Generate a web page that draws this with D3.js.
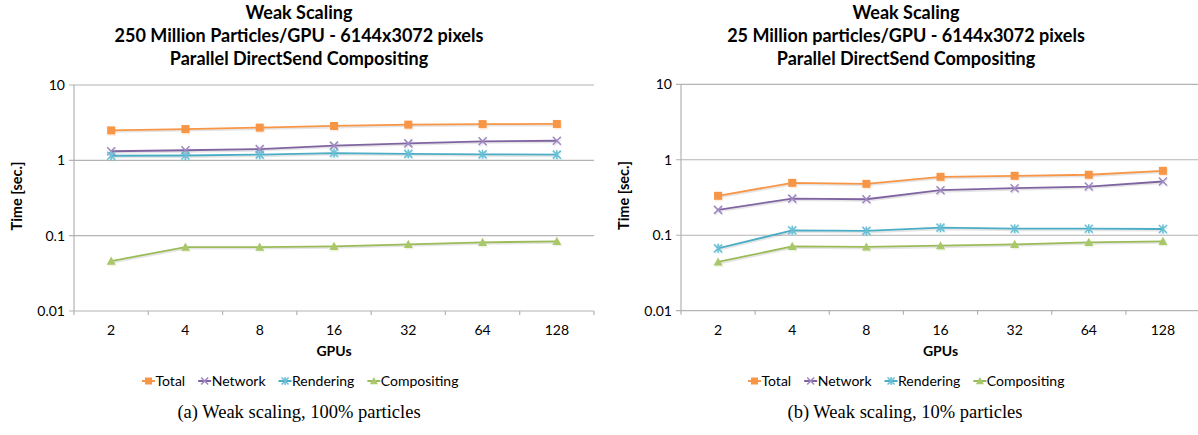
<!DOCTYPE html>
<html><head><meta charset="utf-8">
<script src="https://cdn.jsdelivr.net/npm/d3@7"></script>
<style>
body{margin:0;background:#fff;}
svg{display:block;}
</style></head>
<body>
<svg id="c" width="1198" height="435"></svg>
<script>
const categories = ["2","4","8","16","32","64","128"];
const seriesNames = ["Total","Network","Rendering","Compositing"];
const yTicks = [0.01, 0.1, 1, 10];
const yTickLabels = ["0.01","0.1","1","10"];

// (a) 250 Million particles/GPU
const aTotal       = [2.50, 2.60, 2.72, 2.86, 2.98, 3.03, 3.04];
const aNetwork     = [1.32, 1.36, 1.41, 1.57, 1.68, 1.79, 1.82];
const aRendering   = [1.15, 1.16, 1.19, 1.25, 1.22, 1.20, 1.19];
const aCompositing = [0.046, 0.0706, 0.0706, 0.0721, 0.0767, 0.0815, 0.084];

// (b) 25 Million particles/GPU
const bTotal       = [0.333, 0.495, 0.480, 0.594, 0.613, 0.633, 0.714];
const bNetwork     = [0.217, 0.306, 0.300, 0.395, 0.420, 0.442, 0.515];
const bRendering   = [0.067, 0.116, 0.114, 0.126, 0.122, 0.122, 0.121];
const bCompositing = [0.0442, 0.0712, 0.070, 0.0728, 0.0757, 0.0805, 0.083];

const titlesA = ["Weak Scaling","250 Million Particles/GPU - 6144x3072 pixels","Parallel DirectSend Compositing"];
const titlesB = ["Weak Scaling","25 Million particles/GPU - 6144x3072 pixels","Parallel DirectSend Compositing"];
const captionA = "(a) Weak scaling, 100% particles";
const captionB = "(b) Weak scaling, 10% particles";
const yTitle = "Time [sec.]";
const xTitle = "GPUs";

const colors = {Total:"#F79646", Network:"#8064A2", Rendering:"#4BACC6", Compositing:"#9BBB59"};
const markerColors = {Total:"#F79646", Network:"#9F8AC0", Rendering:"#6CC0D6", Compositing:"#A9C86A"};
const FONT = "Lato, 'Open Sans', sans-serif";

const svg = d3.select("#c");

function marker(g, name, x, y, s) {
  const c = markerColors[name];
  if (name === "Total") {
    g.append("rect").attr("x", x - s/2).attr("y", y - s/2).attr("width", s).attr("height", s)
      .attr("fill", colors.Total);
  } else if (name === "Network") {
    const r = s/2;
    g.append("path").attr("d", `M${x-r},${y-r}L${x+r},${y+r}M${x-r},${y+r}L${x+r},${y-r}`)
      .attr("stroke", c).attr("stroke-width", 1.6).attr("fill", "none");
  } else if (name === "Rendering") {
    const r = s/2;
    g.append("path").attr("d", `M${x-r},${y-r}L${x+r},${y+r}M${x-r},${y+r}L${x+r},${y-r}M${x},${y-r-0.5}L${x},${y+r+0.5}`)
      .attr("stroke", c).attr("stroke-width", 1.6).attr("fill", "none");
  } else {
    const r = s/2 + 0.5;
    g.append("path").attr("d", `M${x},${y-r}L${x+r},${y+r*0.8}L${x-r},${y+r*0.8}Z`)
      .attr("fill", c);
  }
}

function drawChart(cfg) {
  const g = svg.append("g");
  const x = d3.scaleBand().domain(categories).range([cfg.x0, cfg.x1]).paddingInner(0).paddingOuter(0);
  const y = d3.scaleLog().domain([0.01, 10]).range([cfg.yBot, cfg.yTop]);
  const cx = c => x(c) + x.bandwidth()/2;

  g.selectAll(".grid").data(yTicks).enter().append("line")
    .attr("x1", cfg.x0 - 5).attr("x2", cfg.x1)
    .attr("y1", d => y(d)).attr("y2", d => y(d))
    .attr("stroke", "#b3b3b3").attr("stroke-width", 1.2);
  g.append("line").attr("x1", cfg.x0).attr("x2", cfg.x0).attr("y1", cfg.yTop).attr("y2", cfg.yBot + 4)
    .attr("stroke", "#b3b3b3").attr("stroke-width", 1.2);
  const bounds = categories.map(c => x(c)).concat([cfg.x1]);
  g.selectAll(".xt").data(bounds.slice(1)).enter().append("line")
    .attr("x1", d => d).attr("x2", d => d).attr("y1", cfg.yBot).attr("y2", cfg.yBot + 4)
    .attr("stroke", "#b3b3b3").attr("stroke-width", 1.2);

  g.selectAll(".yl").data(yTicks).enter().append("text")
    .attr("x", cfg.x0 - 9).attr("y", d => y(d) + 5)
    .attr("text-anchor", "end").attr("font-family", FONT).attr("font-size", 14).attr("fill", "#000")
    .text((d,i) => yTickLabels[i]);
  g.selectAll(".xl").data(categories).enter().append("text")
    .attr("x", d => cx(d)).attr("y", cfg.yBot + 24)
    .attr("text-anchor", "middle").attr("font-family", FONT).attr("font-size", 14).attr("fill", "#000")
    .text(d => d);

  g.append("text").attr("transform", `translate(${cfg.x0 - 52},${(cfg.yTop + cfg.yBot)/2 - 2}) rotate(-90)`)
    .attr("text-anchor", "middle").attr("font-family", FONT).attr("font-weight", "bold").attr("font-size", 14.5)
    .text(yTitle);
  g.append("text").attr("x", (cfg.x0 + cfg.x1)/2).attr("y", cfg.yBot + 45)
    .attr("text-anchor", "middle").attr("font-family", FONT).attr("font-weight", "bold").attr("font-size", 14)
    .text(xTitle);

  cfg.titles.forEach((t, i) => {
    g.append("text").attr("x", cfg.titleCx).attr("y", 19 + i*23)
      .attr("text-anchor", "middle").attr("font-family", FONT).attr("font-weight", "bold").attr("font-size", 18)
      .text(t);
  });

  const line = d3.line().x((d,i) => cx(categories[i])).y(d => y(d));
  cfg.series.forEach((vals, si) => {
    const name = seriesNames[si];
    g.append("path").datum(vals).attr("d", line)
      .attr("fill", "none").attr("stroke", "#000").attr("stroke-opacity", 0.1).attr("stroke-width", 2)
      .attr("transform", "translate(1,1.5)");
    g.append("path").datum(vals).attr("d", line)
      .attr("fill", "none").attr("stroke", colors[name]).attr("stroke-width", 1.8);
    const mg = g.append("g");
    vals.forEach((v, i) => {
      const sh = g.append("g").attr("opacity", 0.18).attr("transform", "translate(1,1.5)");
      marker(sh, name, cx(categories[i]), y(v), 8);
    });
    vals.forEach((v, i) => marker(mg, name, cx(categories[i]), y(v), 8));
  });

  const lg = g.append("g");
  let lx = cfg.legendX;
  const ly = 381;
  seriesNames.forEach(name => {
    lg.append("line").attr("x1", lx).attr("x2", lx + 13).attr("y1", ly).attr("y2", ly)
      .attr("stroke", colors[name]).attr("stroke-width", 2);
    marker(lg, name, lx + 6.5, ly, 7);
    const t = lg.append("text").attr("x", lx + 13.5).attr("y", ly + 5)
      .attr("font-family", FONT).attr("font-size", 14).attr("fill", "#000").text(name);
    lx += 13.5 + t.node().getComputedTextLength() + 13;
  });

  g.append("text").attr("x", cfg.captionCx).attr("y", 418)
    .attr("text-anchor", "middle").attr("font-family", "'Liberation Serif', 'Times New Roman', serif").attr("font-size", 18.5)
    .text(cfg.caption);
}

drawChart({x0:74, x1:594, yTop:85, yBot:311, titleCx:299, titles:titlesA,
  series:[aTotal, aNetwork, aRendering, aCompositing], legendX:142, caption:captionA, captionCx:299});
drawChart({x0:681, x1:1200, yTop:84.3, yBot:310.7, titleCx:906, titles:titlesB,
  series:[bTotal, bNetwork, bRendering, bCompositing], legendX:748, caption:captionB, captionCx:905});
</script>
</body></html>
